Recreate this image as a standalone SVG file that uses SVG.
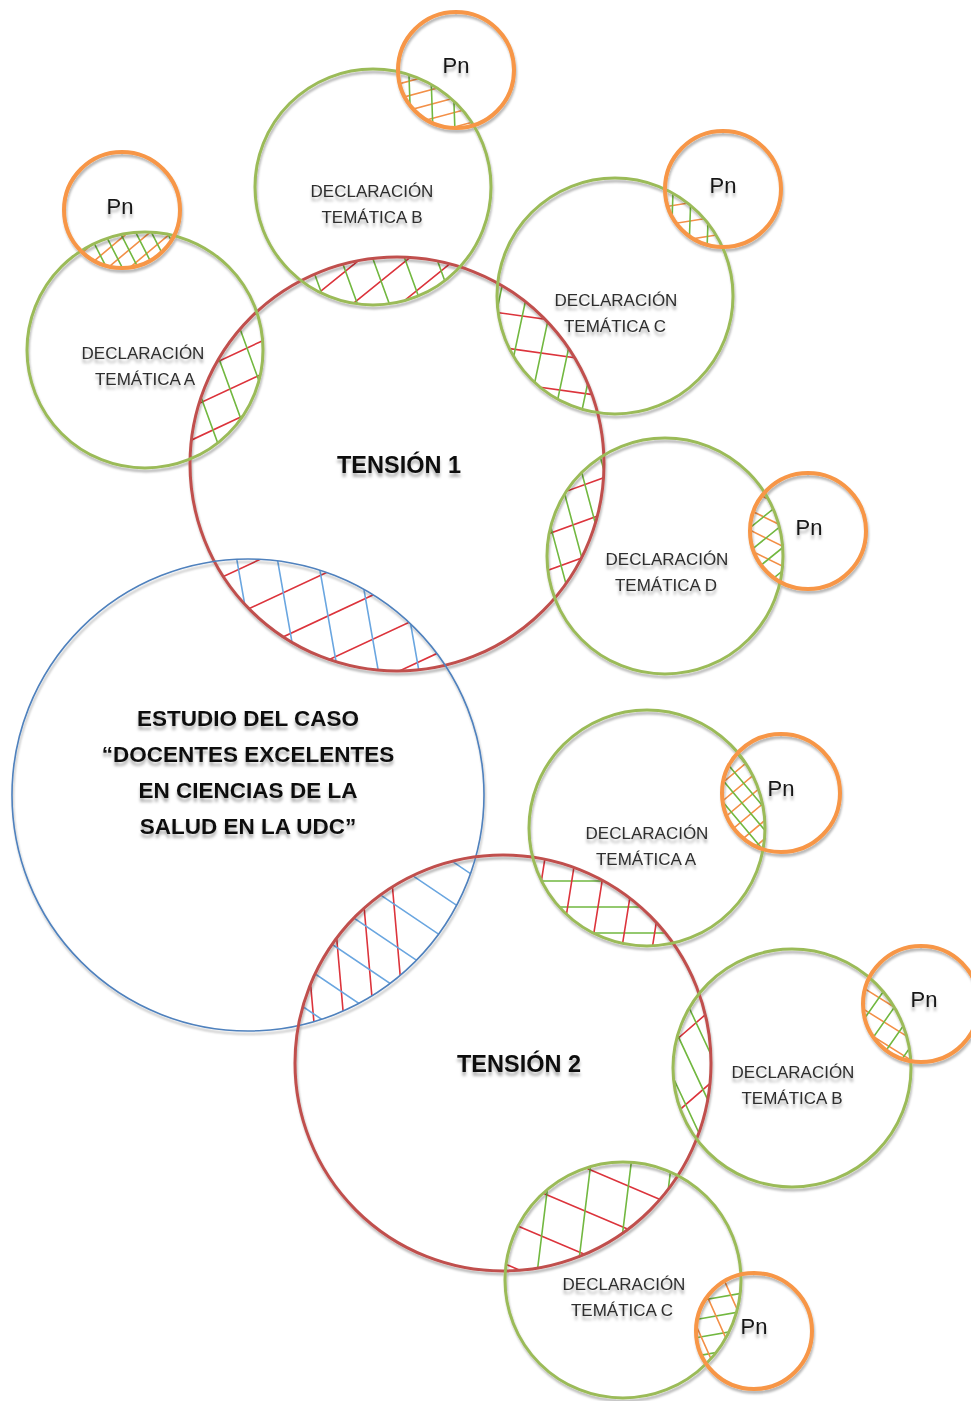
<svg xmlns="http://www.w3.org/2000/svg" xmlns:xlink="http://www.w3.org/1999/xlink" width="971" height="1401" viewBox="0 0 971 1401">
  <style>
    .ring { fill: none; }
    .tension { stroke: #C0504D; stroke-width: 3; }
    .case { stroke: #4F81BD; stroke-width: 1.6; }
    .theme { stroke: #9BBB59; stroke-width: 3; }
    .pn { stroke: #F79646; stroke-width: 4; }
    .hr { stroke: #DC343C; stroke-width: 1.6; fill: none; }
    .hg { stroke: #72B840; stroke-width: 1.6; fill: none; }
    .hb { stroke: #6AA6E0; stroke-width: 1.6; fill: none; }
    .ho { stroke: #F39048; stroke-width: 1.6; fill: none; }
    .lbl { font-family: "Liberation Sans", Arial, sans-serif; text-anchor: middle; }
    .decl { font-size: 17px; fill: #2e2e2e; }
    .big { font-size: 22.5px; font-weight: bold; fill: #111; }
    .ten { font-size: 23.5px; }
    .pnt { font-size: 22px; fill: #151515; }
  </style>
  <defs>
    <filter id="ringShadow" x="-10%" y="-10%" width="120%" height="125%">
      <feDropShadow dx="1" dy="3" stdDeviation="1.2" flood-color="#000" flood-opacity="0.28"/>
    </filter>
    <filter id="textShadow" x="-10%" y="-30%" width="120%" height="180%">
      <feDropShadow dx="0" dy="4" stdDeviation="1.4" flood-color="#000" flood-opacity="0.3"/>
    </filter>

    <!-- parallel line sets, centred on the origin, vertical before rotation -->
    <path id="h14" d="M-84,-90V90M-70,-90V90M-56,-90V90M-42,-90V90M-28,-90V90M-14,-90V90M0,-90V90M14,-90V90M28,-90V90M42,-90V90M56,-90V90M70,-90V90M84,-90V90"/>
    <path id="h18" d="M-90,-90V90M-72,-90V90M-54,-90V90M-36,-90V90M-18,-90V90M0,-90V90M18,-90V90M36,-90V90M54,-90V90M72,-90V90M90,-90V90"/>
    <path id="h22" d="M-88,-90V90M-66,-90V90M-44,-90V90M-22,-90V90M0,-90V90M22,-90V90M44,-90V90M66,-90V90M88,-90V90"/>
    <path id="h26" d="M-156,-170V170M-130,-170V170M-104,-170V170M-78,-170V170M-52,-170V170M-26,-170V170M0,-170V170M26,-170V170M52,-170V170M78,-170V170M104,-170V170M130,-170V170M156,-170V170"/>
    <path id="h30" d="M-150,-170V170M-120,-170V170M-90,-170V170M-60,-170V170M-30,-170V170M0,-170V170M30,-170V170M60,-170V170M90,-170V170M120,-170V170M150,-170V170"/>
    <path id="h34" d="M-170,-170V170M-136,-170V170M-102,-170V170M-68,-170V170M-34,-170V170M0,-170V170M34,-170V170M68,-170V170M102,-170V170M136,-170V170M170,-170V170"/>
    <path id="h40" d="M-160,-180V180M-120,-180V180M-80,-180V180M-40,-180V180M0,-180V180M40,-180V180M80,-180V180M120,-180V180M160,-180V180"/>
    <path id="h55" d="M-165,-170V170M-110,-170V170M-55,-170V170M0,-170V170M55,-170V170M110,-170V170M165,-170V170"/>

    <!-- circle interiors used to clip the hatching -->
    <clipPath id="cT1"><circle cx="397" cy="464" r="207"/></clipPath>
    <clipPath id="cT2"><circle cx="503" cy="1063" r="208"/></clipPath>
    <clipPath id="cCase"><circle cx="248" cy="795" r="236"/></clipPath>
    <clipPath id="cA"><circle cx="145" cy="350" r="118"/></clipPath>
    <clipPath id="cB"><circle cx="373" cy="187" r="118"/></clipPath>
    <clipPath id="cC"><circle cx="615" cy="296" r="118"/></clipPath>
    <clipPath id="cD"><circle cx="665" cy="556" r="118"/></clipPath>
    <clipPath id="cPA"><circle cx="122" cy="210" r="58"/></clipPath>
    <clipPath id="cPB"><circle cx="456" cy="70" r="58"/></clipPath>
    <clipPath id="cPC"><circle cx="723" cy="189" r="58"/></clipPath>
    <clipPath id="cPD"><circle cx="808" cy="531" r="58"/></clipPath>
    <clipPath id="cA2"><circle cx="647" cy="828" r="118"/></clipPath>
    <clipPath id="cB2"><circle cx="792" cy="1068" r="119"/></clipPath>
    <clipPath id="cC2"><circle cx="623" cy="1280" r="118"/></clipPath>
    <clipPath id="cPA2"><circle cx="781" cy="793" r="59"/></clipPath>
    <clipPath id="cPB2"><circle cx="921" cy="1004" r="58"/></clipPath>
    <clipPath id="cPC2"><circle cx="754" cy="1331" r="58"/></clipPath>
    <!-- lower-left part of the case / tension 2 overlap, where the red lines stop -->
    <clipPath id="cLowLeft"><rect x="290" y="870" width="122" height="180"/></clipPath>
  </defs>

  <rect width="971" height="1401" fill="#fff"/>

  <!-- hatched overlaps -->
  <g id="hatching">
    <!-- tension 1 with its themes -->
    <g clip-path="url(#cT1)"><g clip-path="url(#cA)">
      <use href="#h30" class="hr" transform="translate(230,389) rotate(65)"/>
      <use href="#h30" class="hg" transform="translate(230,389) rotate(-20)"/>
    </g></g>
    <g clip-path="url(#cT1)"><g clip-path="url(#cB)">
      <use href="#h30" class="hr" transform="translate(381,281) rotate(51)"/>
      <use href="#h30" class="hg" transform="translate(381,281) rotate(-20)"/>
    </g></g>
    <g clip-path="url(#cT1)"><g clip-path="url(#cC)">
      <use href="#h34" class="hr" transform="translate(541,353) rotate(-82)"/>
      <use href="#h26" class="hg" transform="translate(541,353) rotate(12)"/>
    </g></g>
    <g clip-path="url(#cT1)"><g clip-path="url(#cD)">
      <use href="#h34" class="hr" transform="translate(573,525) rotate(70)"/>
      <use href="#h22" class="hg" transform="translate(573,525) rotate(-15)"/>
    </g></g>
    <!-- themes with their Pn -->
    <g clip-path="url(#cA)"><g clip-path="url(#cPA)">
      <use href="#h14" class="ho" transform="translate(129,250) rotate(50)"/>
      <use href="#h14" class="hg" transform="translate(129,250) rotate(-27)"/>
    </g></g>
    <g clip-path="url(#cB)"><g clip-path="url(#cPB)">
      <use href="#h14" class="ho" transform="translate(432,104) rotate(75)"/>
      <use href="#h22" class="hg" transform="translate(432,104) rotate(-2)"/>
    </g></g>
    <g clip-path="url(#cC)"><g clip-path="url(#cPC)">
      <use href="#h18" class="ho" transform="translate(690,221) rotate(81)"/>
      <use href="#h18" class="hg" transform="translate(690,221) rotate(2)"/>
    </g></g>
    <g clip-path="url(#cD)"><g clip-path="url(#cPD)">
      <use href="#h18" class="ho" transform="translate(766,538) rotate(-64)"/>
      <use href="#h18" class="hg" transform="translate(766,538) rotate(51)"/>
    </g></g>
    <!-- case study with both tensions -->
    <g clip-path="url(#cT1)"><g clip-path="url(#cCase)">
      <use href="#h40" class="hr" transform="translate(328,616) rotate(65)"/>
      <use href="#h40" class="hb" transform="translate(328,616) rotate(-10)"/>
    </g></g>
    <g clip-path="url(#cT2)"><g clip-path="url(#cCase)">
      <g clip-path="url(#cLowLeft)">
        <use href="#h30" class="hr" transform="translate(397,939) rotate(-5)"/>
      </g>
      <use href="#h34" class="hb" transform="translate(385,939) rotate(-56)"/>
    </g></g>
    <!-- tension 2 with its themes -->
    <g clip-path="url(#cT2)"><g clip-path="url(#cA2)">
      <use href="#h26" class="hg" transform="translate(598,907) rotate(-90)"/>
      <use href="#h30" class="hr" transform="translate(598,907) rotate(9)"/>
    </g></g>
    <g clip-path="url(#cT2)"><g clip-path="url(#cB2)">
      <use href="#h55" class="hr" transform="translate(692,1066) rotate(49) translate(-30,0)"/>
      <use href="#h22" class="hg" transform="translate(692,1066) rotate(-25)"/>
    </g></g>
    <g clip-path="url(#cT2)"><g clip-path="url(#cC2)">
      <use href="#h40" class="hr" transform="translate(585,1211) rotate(-67)"/>
      <use href="#h40" class="hg" transform="translate(585,1211) rotate(7)"/>
    </g></g>
    <g clip-path="url(#cA2)"><g clip-path="url(#cPA2)">
      <use href="#h14" class="ho" transform="translate(742,803) rotate(50)"/>
      <use href="#h14" class="hg" transform="translate(742,803) rotate(-40)"/>
    </g></g>
    <g clip-path="url(#cB2)"><g clip-path="url(#cPB2)">
      <use href="#h18" class="ho" transform="translate(884,1022) rotate(-58)"/>
      <use href="#h18" class="hg" transform="translate(884,1022) rotate(35)"/>
    </g></g>
    <g clip-path="url(#cC2)"><g clip-path="url(#cPC2)">
      <use href="#h18" class="hg" transform="translate(716,1316) rotate(80)"/>
      <use href="#h22" class="ho" transform="translate(716,1316) rotate(-24)"/>
    </g></g>
  </g>

  <!-- circles -->
  <g filter="url(#ringShadow)">
    <g id="tension1">
      <circle class="ring tension" cx="397" cy="464" r="207"/>
    </g>
    <g id="case-study">
      <circle class="ring case" cx="248" cy="795" r="236"/>
    </g>
    <g id="tension2">
      <circle class="ring tension" cx="503" cy="1063" r="208"/>
    </g>
    <g id="t1-theme-a"><circle class="ring theme" cx="145" cy="350" r="118"/></g>
    <g id="t1-theme-b"><circle class="ring theme" cx="373" cy="187" r="118"/></g>
    <g id="t1-theme-c"><circle class="ring theme" cx="615" cy="296" r="118"/></g>
    <g id="t1-theme-d"><circle class="ring theme" cx="665" cy="556" r="118"/></g>
    <g id="t1-pn-a"><circle class="ring pn" cx="122" cy="210" r="58"/></g>
    <g id="t1-pn-b"><circle class="ring pn" cx="456" cy="70" r="58"/></g>
    <g id="t1-pn-c"><circle class="ring pn" cx="723" cy="189" r="58"/></g>
    <g id="t1-pn-d"><circle class="ring pn" cx="808" cy="531" r="58"/></g>
    <g id="t2-theme-a"><circle class="ring theme" cx="647" cy="828" r="118"/></g>
    <g id="t2-theme-b"><circle class="ring theme" cx="792" cy="1068" r="119"/></g>
    <g id="t2-theme-c"><circle class="ring theme" cx="623" cy="1280" r="118"/></g>
    <g id="t2-pn-a"><circle class="ring pn" cx="781" cy="793" r="59"/></g>
    <g id="t2-pn-b"><circle class="ring pn" cx="921" cy="1004" r="58"/></g>
    <g id="t2-pn-c"><circle class="ring pn" cx="754" cy="1331" r="58"/></g>
  </g>

  <!-- labels -->
  <g id="labels" filter="url(#textShadow)">
    <text class="lbl big ten" x="399" y="473">TENSIÓN 1</text>
    <text class="lbl big ten" x="519" y="1072">TENSIÓN 2</text>
    <text class="lbl big" x="248" y="726">ESTUDIO DEL CASO</text>
    <text class="lbl big" x="248" y="762">“DOCENTES EXCELENTES</text>
    <text class="lbl big" x="248" y="798">EN CIENCIAS DE LA</text>
    <text class="lbl big" x="248" y="834">SALUD EN LA UDC”</text>

    <text class="lbl decl" x="143" y="359">DECLARACIÓN</text>
    <text class="lbl decl" x="145" y="385">TEMÁTICA A</text>
    <text class="lbl decl" x="372" y="197">DECLARACIÓN</text>
    <text class="lbl decl" x="372" y="223">TEMÁTICA B</text>
    <text class="lbl decl" x="616" y="306">DECLARACIÓN</text>
    <text class="lbl decl" x="615" y="332">TEMÁTICA C</text>
    <text class="lbl decl" x="667" y="565">DECLARACIÓN</text>
    <text class="lbl decl" x="666" y="591">TEMÁTICA D</text>
    <text class="lbl decl" x="647" y="839">DECLARACIÓN</text>
    <text class="lbl decl" x="646" y="865">TEMÁTICA A</text>
    <text class="lbl decl" x="793" y="1078">DECLARACIÓN</text>
    <text class="lbl decl" x="792" y="1104">TEMÁTICA B</text>
    <text class="lbl decl" x="624" y="1290">DECLARACIÓN</text>
    <text class="lbl decl" x="622" y="1316">TEMÁTICA C</text>

    <text class="lbl pnt" x="120" y="214">Pn</text>
    <text class="lbl pnt" x="456" y="73">Pn</text>
    <text class="lbl pnt" x="723" y="193">Pn</text>
    <text class="lbl pnt" x="809" y="535">Pn</text>
    <text class="lbl pnt" x="781" y="796">Pn</text>
    <text class="lbl pnt" x="924" y="1007">Pn</text>
    <text class="lbl pnt" x="754" y="1334">Pn</text>
  </g>
</svg>
